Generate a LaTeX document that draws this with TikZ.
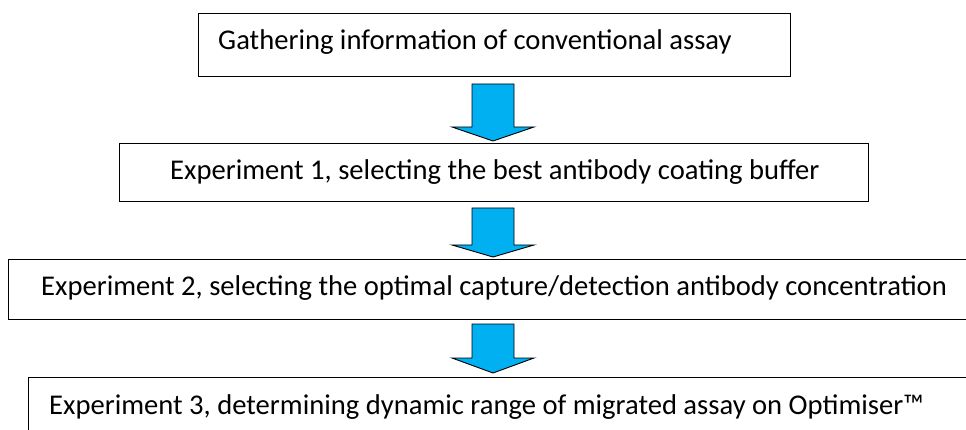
\documentclass[tikz,border=0pt]{standalone}
\usepackage{fontspec}
\setmainfont{Carlito}
\definecolor{arrowblue}{HTML}{00B0F0}
\tikzset{
  x=1pt, y=-1pt,
  stagebox/.style={draw=black, line width=1.4pt, fill=white, inner sep=0pt,
                   anchor=north west},
  stagetext/.style={anchor=base west, inner sep=0pt,
                    font=\fontsize{28.6}{33}\selectfont},
  flowarrow/.style={draw=black, line width=0.9pt, fill=arrowblue,
                    line join=miter}
}
% block arrow pointing down: #1 shaft top, #2 start of head, #3 tip
\newcommand\blockarrow[3]{%
  \draw[flowarrow] (472,#1) -- (514,#1) -- (514,#2) -- (534,#2)
    -- (493,#3) -- (452,#2) -- (472,#2) -- cycle;}

\begin{document}
\begin{tikzpicture}
\useasboundingbox (0,0) rectangle (966,430);
\clip (0,0) rectangle (966,430);

% stage boxes
\node[stagebox, minimum width=592, minimum height=63] (box1) at (198,13) {};
\node[stagebox, minimum width=749, minimum height=58] (box2) at (119,143) {};
\node[stagebox, minimum width=960, minimum height=60] (box3) at (8,259) {};
\node[stagebox, minimum width=940, minimum height=63] (box4) at (28,377) {};

% stage labels
\node[stagetext] (t1) at (218,50) {Gathering information of conventional assay};
\node[stagetext] (t2) at (170,180) {Experiment 1, selecting the best antibody coating buffer};
\node[stagetext] (t3) at (41,295) {Experiment 2, selecting the optimal capture/detection antibody concentration};
\node[stagetext] (t4) at (49,414) {Experiment 3, determining dynamic range of migrated assay on Optimiser™};

% arrows between stages
\blockarrow{84}{127}{141}
\blockarrow{208}{245}{257}
\blockarrow{324}{358}{373}
\end{tikzpicture}
\end{document}
